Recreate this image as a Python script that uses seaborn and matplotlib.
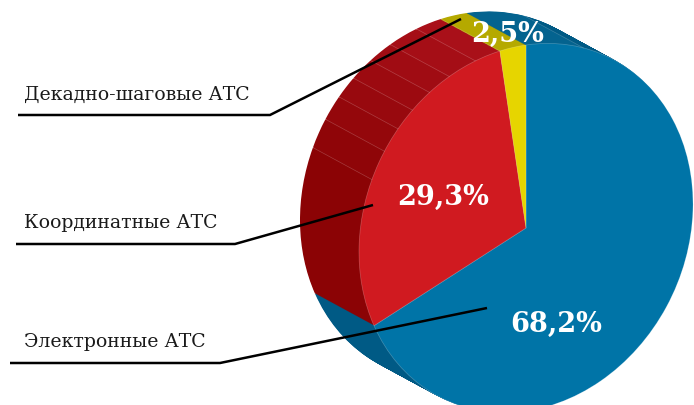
import numpy as np
import matplotlib
matplotlib.use('Agg')
import matplotlib.pyplot as plt
from matplotlib.transforms import Affine2D
import seaborn as sns

# доли типов АТС, по часовой стрелке от верха
labels = ['Электронные АТС', 'Координатные АТС', 'Декадно-шаговые АТС']
shares = [68.2, 29.3, 2.5]
share_text = ['68,2%', '29,3%', '2,5%']
colors = ['#0074a7', '#d01a20', '#e6d500']

# грани боковой стенки (в тех же процентах)
blue_facets = [5.6, 62.6]
red_facets = [13.1, 2.6, 2.2, 2.0, 2.1, 2.2, 2.7, 2.4]
yellow_facets = [2.5]

sns.set_theme(style='white')
plt.rcParams['font.family'] = ['DejaVu Serif']

W, H = 694, 405
fig = plt.figure(figsize=(W / 100, H / 100), dpi=100)
ax = fig.add_axes([0, 0, 1, 1])

# наклон диска: единичная окружность -> пиксели
cx, cy = 526, 228
depth = (-59, -32)


def disc(shift=0.0):
    return Affine2D(np.array([[167, 0, cx + depth[0] * shift],
                              [-24, -183, cy + depth[1] * shift],
                              [0, 0, 1]])) + ax.transData


wall_values = blue_facets + red_facets + yellow_facets
wall_colors = ['#04638f', '#005a85'] + sns.blend_palette(['#8b0305', '#a91019'], len(red_facets)) + ['#b5a900']

steps = 68
for i in range(steps, 0, -1):
    wedges, _ = ax.pie(wall_values, colors=wall_colors, startangle=90, counterclock=False,
                       wedgeprops={'linewidth': 0})
    for w in wedges:
        w.set_transform(disc(i / steps))

# линии между гранями
angles = 90 - np.cumsum(wall_values) * 3.6
inv = ax.transData.inverted()
for a in list(angles[:1]) + list(angles[2:-1]):
    p = np.array([np.cos(np.radians(a)), np.sin(np.radians(a))])
    start = inv.transform(disc(1.0).transform(p))
    end = inv.transform(disc(0.0).transform(p))
    ax.plot([start[0], end[0]], [start[1], end[1]], color='white', alpha=0.22, lw=0.5)

wedges, _ = ax.pie(shares, colors=colors, startangle=90, counterclock=False,
                   wedgeprops={'linewidth': 0.5, 'edgecolor': (1, 1, 1, 0.25)})
for w in wedges:
    w.set_transform(disc())

ax.set_aspect('auto')
ax.axis('off')

# выноски
leaders = [[(10, 363), (220, 363), (487, 308)],
           [(16, 244), (235, 244), (373, 205)],
           [(18, 115), (270, 115), (461, 19)]]
for pts in leaders:
    xs, ys = zip(*pts)
    ax.plot(xs, ys, color='black', lw=1.8, solid_joinstyle='miter', solid_capstyle='butt')

label_pos = [(24, 342), (24, 223), (24, 95)]
for s, (x, y) in zip(labels, label_pos):
    ax.text(x, y, s, fontsize=13.6, color='#1a1a1a', ha='left', va='center')

text_pos = [(556, 324), (443, 197), (508, 34)]
for s, (x, y) in zip(share_text, text_pos):
    ax.text(x, y, s, fontsize=19.5, fontweight='bold', color='white', ha='center', va='center')

ax.set_xlim(0, W)
ax.set_ylim(H, 0)
fig.savefig('out.png', dpi=100)
